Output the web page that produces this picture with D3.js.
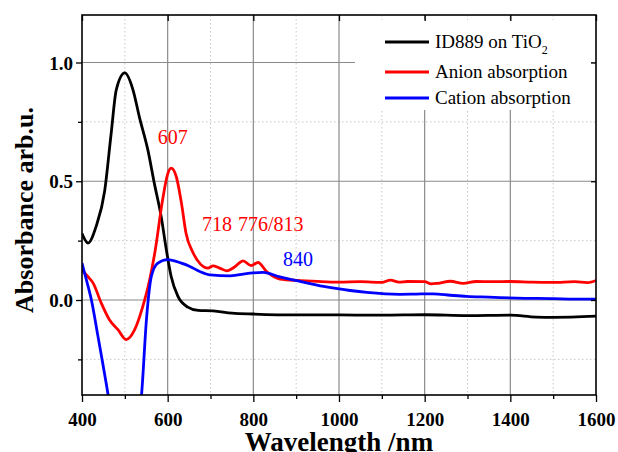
<!DOCTYPE html>
<html><head><meta charset="utf-8">
<script src="https://cdn.jsdelivr.net/npm/d3@7"></script>
<style>body{margin:0;background:#fff}svg{display:block}text{font-family:"Liberation Serif","Times New Roman","DejaVu Serif",serif}</style>
</head><body><svg id="c" width="618" height="452"></svg>
<script>
const blackWl = [400,414,433,453,468,480,500,519,534,554,569,585,597,608,624,647,671,706,750,800,900,1000,1100,1200,1300,1400,1460,1500,1600];
const blackVal = [0.28,0.24,0.31,0.46,0.70,0.885,0.956,0.885,0.77,0.63,0.49,0.35,0.21,0.10,0.015,-0.03,-0.044,-0.046,-0.055,-0.059,-0.063,-0.063,-0.064,-0.062,-0.066,-0.064,-0.072,-0.073,-0.068];
const redWl = [400,413,426,445,464,484,503,523,542,558,571,588,600,608,620,632,643,659,677,694,706,720,738,757,776,795,811,831,862,909,950,1000,1050,1100,1120,1140,1160,1200,1215,1230,1260,1290,1320,1360,1400,1450,1500,1550,1580,1600];
const redVal = [0.127,0.10,0.071,-0.013,-0.083,-0.125,-0.167,-0.125,-0.027,0.085,0.21,0.42,0.53,0.555,0.52,0.41,0.28,0.20,0.15,0.134,0.144,0.135,0.123,0.14,0.165,0.145,0.158,0.12,0.088,0.082,0.078,0.075,0.077,0.074,0.084,0.075,0.078,0.077,0.068,0.070,0.079,0.070,0.078,0.077,0.078,0.075,0.074,0.077,0.073,0.082];
const blueWl = [400,411,422,437,461,480,500,520,539,551,562,577,600,632,652,675,699,746,792,823,862,909,964,1026,1065,1142,1180,1220,1260,1298,1350,1415,1500,1550,1600];
const blueVal = [0.155,0.08,0.0,-0.15,-0.40,-0.62,-0.72,-0.62,-0.40,-0.07,0.10,0.155,0.17,0.155,0.141,0.12,0.106,0.102,0.113,0.116,0.097,0.078,0.057,0.04,0.032,0.024,0.025,0.026,0.02,0.015,0.012,0.008,0.006,0.004,0.004];
const xTicks = [400,600,800,1000,1200,1400,1600];
const yTicks = [0.0,0.5,1.0];
const seriesNames = ["ID889 on TiO","Anion absorption","Cation absorption"];
const colors = ["#000000","#ff0000","#0000ff"];
const annotations = [
  {text:"607", wl:577, v:0.655, color:"#ff0000"},
  {text:"718", wl:680, v:0.29, color:"#ff0000"},
  {text:"776/813", wl:764, v:0.29, color:"#ff0000"},
  {text:"840", wl:869, v:0.145, color:"#0000ff"}
];

const svg = d3.select("#c");
const L=82,R=596,T=15,B=395;
const x = d3.scaleLinear().domain([400,1600]).range([L,R]);
const y = d3.scaleLinear().domain([-0.4,1.2]).range([B,T]);

// grid
const g = svg.append("g");
g.selectAll(".mx").data([500,700,900,1100,1300,1500]).enter().append("line")
 .attr("x1",d=>x(d)).attr("x2",d=>x(d)).attr("y1",T).attr("y2",B)
 .attr("stroke","#c8c8c8").attr("stroke-dasharray","1.5,2.5");
g.selectAll(".my").data([-0.25,0.25,0.75]).enter().append("line")
 .attr("y1",d=>y(d)).attr("y2",d=>y(d)).attr("x1",L).attr("x2",R)
 .attr("stroke","#c8c8c8").attr("stroke-dasharray","1.5,2.5");
g.selectAll(".Mx").data([600,800,1000,1200,1400]).enter().append("line")
 .attr("x1",d=>x(d)).attr("x2",d=>x(d)).attr("y1",T).attr("y2",B)
 .attr("stroke","#8a8a8a").attr("stroke-width",1.2);
g.selectAll(".My").data(yTicks).enter().append("line")
 .attr("y1",d=>y(d)).attr("y2",d=>y(d)).attr("x1",L).attr("x2",R)
 .attr("stroke","#8a8a8a").attr("stroke-width",1.2);

// legend background
svg.append("rect").attr("x",355).attr("y",20).attr("width",236).attr("height",90).attr("fill","#fff");

// clip
svg.append("clipPath").attr("id","clip").append("rect").attr("x",L).attr("y",T).attr("width",R-L).attr("height",B-T);

const line = d3.line().x(d=>x(d[0])).y(d=>y(d[1])).curve(d3.curveMonotoneX);
const series = [
  d3.zip(blackWl,blackVal),
  d3.zip(redWl,redVal),
  d3.zip(blueWl,blueVal)
];
[0,1,2].forEach(i=>{
  svg.append("path").attr("d",line(series[i])).attr("fill","none")
   .attr("stroke",colors[i]).attr("stroke-width",2.8).attr("stroke-linejoin","round")
   .attr("clip-path","url(#clip)");
});

// axes
const fmt = d3.format(".1f");
const axBottom = svg.append("g").attr("transform",`translate(0,${B})`)
 .call(d3.axisBottom(x).tickValues(xTicks).tickSize(7).tickFormat(d3.format("d")));
const axBottomMinor = svg.append("g").attr("transform",`translate(0,${B})`)
 .call(d3.axisBottom(x).tickValues([500,700,900,1100,1300,1500]).tickSize(4).tickFormat(""));
const axLeft = svg.append("g").attr("transform",`translate(${L},0)`)
 .call(d3.axisLeft(y).tickValues(yTicks).tickSize(6).tickFormat(fmt));
const axLeftMinor = svg.append("g").attr("transform",`translate(${L},0)`)
 .call(d3.axisLeft(y).tickValues([-0.25,0.25,0.75]).tickSize(4).tickFormat(""));
const axTop = svg.append("g").attr("transform",`translate(0,${T})`)
 .call(d3.axisBottom(x).tickValues(xTicks).tickSize(6).tickFormat(""));
const axRight = svg.append("g").attr("transform",`translate(${R},0)`)
 .call(d3.axisLeft(y).tickValues(yTicks).tickSize(5).tickFormat(""));
[axBottom,axBottomMinor,axLeft,axLeftMinor,axTop,axRight].forEach(a=>{
  a.attr("font-family",null);
  a.select(".domain").remove();
  a.selectAll("line").attr("stroke","#000").attr("stroke-width",1.3);
  a.selectAll("text").attr("fill","#000").attr("font-weight","bold").attr("font-size",19);
});
axBottom.selectAll("text").attr("dy",null).attr("y",31);
axLeft.selectAll("text").attr("x",-9).attr("dy","0.35em");

svg.append("rect").attr("x",L).attr("y",T).attr("width",R-L).attr("height",B-T)
 .attr("fill","none").attr("stroke","#000").attr("stroke-width",1.6);

// axis titles
svg.append("text").attr("x",(L+R)/2).attr("y",451).attr("text-anchor","middle")
 .attr("font-weight","bold").attr("font-size",27).text("Wavelength /nm");
svg.append("text").attr("transform",`translate(33,${(T+B)/2+5}) rotate(-90)`).attr("text-anchor","middle")
 .attr("font-weight","bold").attr("font-size",26).text("Absorbance arb.u.");

// annotations
svg.selectAll(".ann").data(annotations).enter().append("text")
 .attr("x",d=>x(d.wl)).attr("y",d=>y(d.v)).attr("text-anchor","start")
 .attr("fill",d=>d.color).attr("font-size",20).text(d=>d.text);

// legend
const lg = svg.append("g");
const rowsY=[42,72,98];
seriesNames.forEach((n,i)=>{
  lg.append("line").attr("x1",385).attr("x2",429).attr("y1",rowsY[i]).attr("y2",rowsY[i])
   .attr("stroke",colors[i]).attr("stroke-width",2.8);
  const t = lg.append("text").attr("x",435).attr("y",rowsY[i]+6).attr("font-size",19).attr("fill","#000").text(n);
  if(i===0) t.append("tspan").attr("font-size",12).attr("dy",6).text("2");
});
</script></body></html>
